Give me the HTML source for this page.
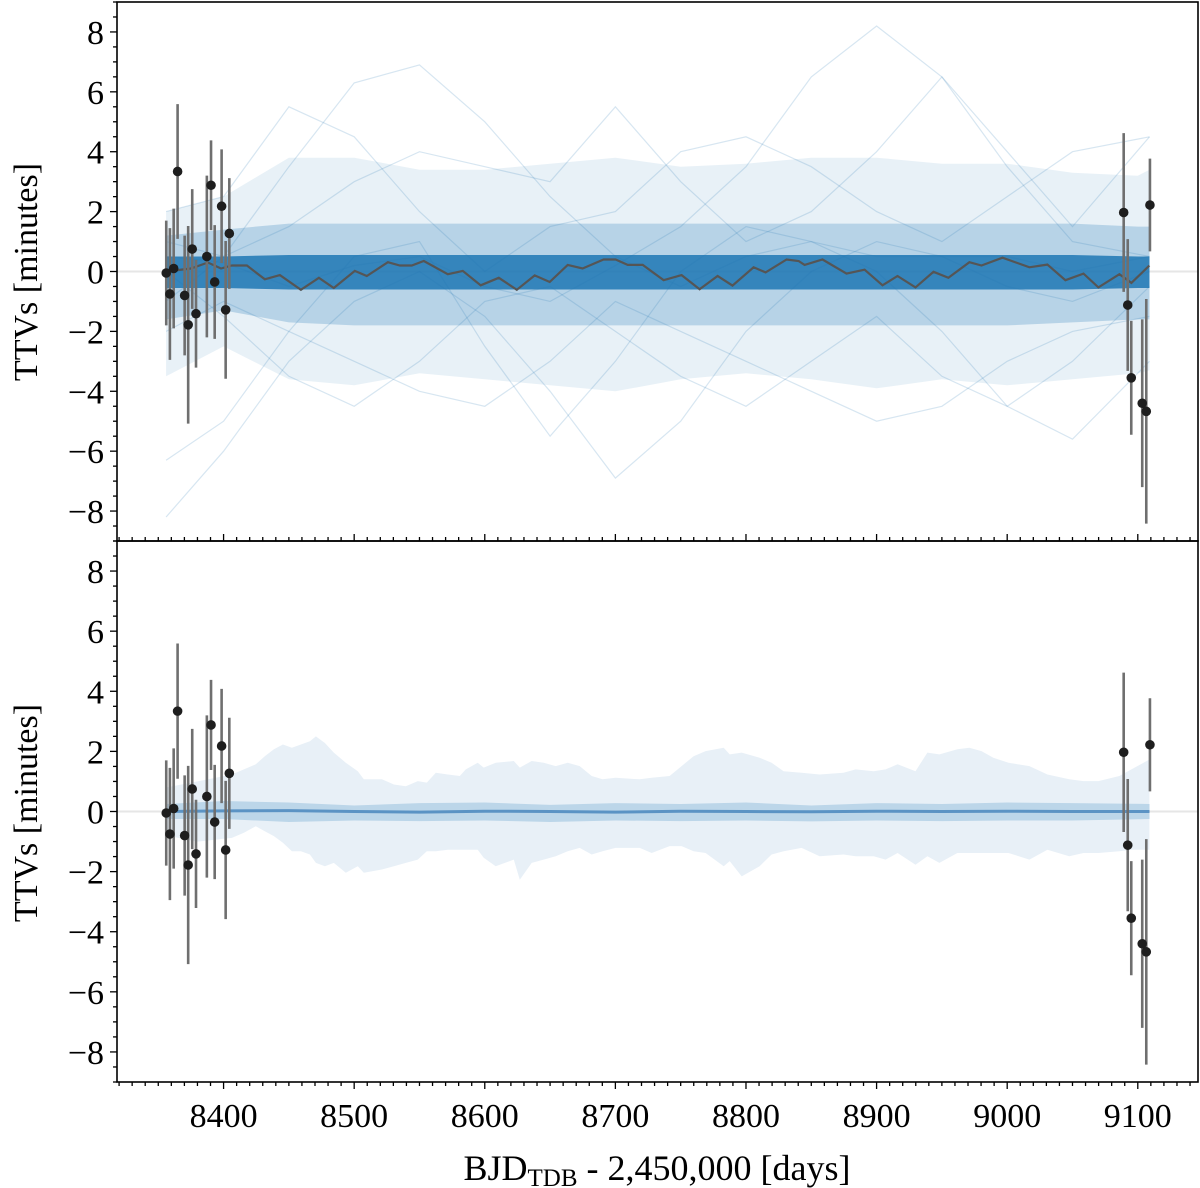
<!DOCTYPE html>
<html><head><meta charset="utf-8"><style>
html,body{margin:0;padding:0;background:#fff;}
svg{display:block;font-family:"Liberation Serif","DejaVu Serif",serif;}
</style></head><body>
<svg id="chart" width="1200" height="1188" viewBox="0 0 1200 1188" xmlns="http://www.w3.org/2000/svg">
<g id="top"></g>
<g id="bot"></g>
<g id="axes"></g>
<text x="37" y="272" font-size="34" text-anchor="middle" transform="rotate(-90 37 272)">TTVs [minutes]</text>
<text x="37" y="813" font-size="34" text-anchor="middle" transform="rotate(-90 37 813)">TTVs [minutes]</text>
<text x="657" y="1180" font-size="36" text-anchor="middle">BJD<tspan font-size="25" dy="6">TDB</tspan><tspan dy="-6"> - 2,450,000 [days]</tspan></text>
</svg>
<script>
// ---- data ----
const obsDays = [8356.1,8358.9,8361.8,8364.8,8370.2,8372.9,8376.0,8378.9,8387.2,8390.4,8393.2,8398.5,8401.6,8404.4,9089.2,9092.3,9095.0,9103.4,9106.5,9109.3];
const obsTTV = [-0.05,-0.75,0.1,3.34,-0.8,-1.78,0.75,-1.41,0.5,2.88,-0.35,2.18,-1.28,1.27,1.97,-1.12,-3.55,-4.4,-4.67,2.22];
const obsErr = [1.75,2.2,2.0,2.25,2.0,3.3,2.0,1.8,2.7,1.5,1.9,1.9,2.3,1.85,2.65,2.2,1.9,2.8,3.75,1.55];
const medDays = [8356,8375,8388,8398,8406.4,8417.9,8431.6,8443.1,8459.2,8473,8484.4,8500.5,8509.7,8525.8,8535,8544.1,8553.3,8571.7,8583.2,8596.9,8610.7,8624.5,8638.2,8649.7,8663.5,8674.9,8691,8700.2,8709.4,8720.9,8736.9,8750.7,8764.5,8778.3,8789.7,8805.8,8815,8831.1,8840.3,8844.9,8858.6,8877,8890.8,8904.5,8916,8929.8,8943.6,8955,8971.1,8980.3,8996.4,9017,9030.8,9044.6,9058.4,9069.8,9085.9,9095.1,9108.9];
const medTTV = [0.0,0.1,0.3,0.1,0.2,0.2,-0.26,-0.12,-0.61,-0.21,-0.55,0.02,-0.15,0.31,0.2,0.2,0.35,-0.09,0.02,-0.46,-0.21,-0.61,-0.13,-0.35,0.22,0.1,0.4,0.4,0.22,0.22,-0.29,-0.12,-0.59,-0.15,-0.47,0.14,-0.03,0.4,0.35,0.22,0.4,-0.07,0.06,-0.46,-0.15,-0.53,-0.01,-0.21,0.31,0.2,0.46,0.14,0.23,-0.29,-0.07,-0.53,-0.09,-0.38,0.2];
// posterior envelope (top panel), knots every 50 days
const envDays = [8356,8400,8450,8500,8550,8600,8650,8700,8750,8800,8850,8900,8950,9000,9050,9100,9109];
const envCoreHi = [0.5,0.5,0.55,0.55,0.55,0.55,0.55,0.55,0.55,0.55,0.55,0.55,0.55,0.55,0.55,0.5,0.5];
const envCoreLo = [-0.55,-0.55,-0.6,-0.6,-0.6,-0.6,-0.6,-0.6,-0.6,-0.6,-0.6,-0.6,-0.6,-0.6,-0.6,-0.55,-0.55];
const envMidHi = [1.2,1.4,1.6,1.6,1.6,1.6,1.6,1.6,1.6,1.6,1.6,1.6,1.6,1.6,1.6,1.5,1.5];
const envMidLo = [-1.6,-1.3,-1.7,-1.8,-1.8,-1.8,-1.8,-1.8,-1.8,-1.8,-1.8,-1.8,-1.8,-1.8,-1.7,-1.6,-1.6];
const envWideHi = [2.0,2.5,3.8,3.8,3.4,3.4,3.6,3.8,3.5,3.6,3.8,3.8,3.6,3.6,3.3,3.2,3.4];
const envWideLo = [-3.5,-2.5,-3.6,-3.8,-3.4,-3.6,-3.8,-4.0,-3.6,-3.4,-3.6,-3.9,-3.6,-3.8,-3.6,-3.4,-3.3];
// individual highlighted posterior samples
const sampleDays = [8356,8400,8450,8500,8550,8600,8650,8700,8750,8800,8850,8900,8950,9000,9050,9109];
const sample1 = [0.5,0.3,-0.5,0.2,0.5,-0.5,-1.0,0.2,1.5,3.5,6.5,8.2,6.5,3.5,1.0,0.5];
const sample2 = [-1.0,0.5,3.5,6.3,6.9,5.0,2.5,0.5,-0.5,0.5,1.0,0.5,0.5,0.5,0.0,0.5];
const sample3 = [-8.2,-6.0,-3.0,-1.0,0.0,-1.5,-4.0,-6.9,-5.0,-2.0,0.0,1.0,0.5,-0.5,-1.0,0.0];
const sample4 = [-6.3,-5.0,-2.0,0.5,1.0,-2.5,-5.5,-3.0,0.0,1.5,1.0,0.0,-2.0,-4.5,-5.6,-3.0];
const sample5 = [1.0,0.5,1.5,3.0,4.0,3.5,3.0,5.5,3.0,1.0,2.0,4.0,6.5,4.0,1.5,4.5];
const sample6 = [0.0,-1.5,-3.5,-4.5,-3.0,-1.0,-0.5,-2.0,-3.5,-4.5,-3.0,-1.5,-3.5,-4.5,-3.0,-0.5];
const sample7 = [2.0,2.5,5.5,4.5,2.0,0.0,1.5,2.0,4.0,4.5,3.5,2.0,1.0,2.5,4.0,4.5];
const sample8 = [-2.0,-1.0,-2.0,-3.0,-4.0,-4.5,-3.0,-1.0,-2.0,-3.0,-4.0,-5.0,-4.5,-3.0,-2.0,-1.5];
// bottom panel bands
const bandDays = [8356,8380,8406.4,8415.6,8424.7,8431.6,8438.5,8445.4,8452.3,8459.2,8466.1,8470.7,8477.6,8484.4,8493.6,8502.8,8507.4,8521.2,8530.4,8539.5,8548.7,8555.6,8562.5,8571.7,8580.9,8585.5,8594.6,8599.2,8608.4,8622.2,8626.8,8635.9,8645.1,8654.3,8663.5,8672.7,8681.9,8690.1,8700.2,8718.6,8727.8,8741.5,8750.7,8759.9,8769.1,8782.9,8787.5,8796.7,8810.4,8819.6,8828.8,8842.6,8856.4,8874.7,8883.9,8897.7,8906.9,8916.1,8929.8,8938.9,8948.1,8961.9,8971,8980.3,8989.4,9001,9017,9030.8,9047.5,9058.4,9069.8,9085.9,9095.1,9108.9];
const bandHi = [0.8,1.0,1.23,1.4,1.57,1.84,2.07,2.23,2.12,2.23,2.34,2.5,2.28,1.96,1.62,1.34,1.07,1.07,0.9,0.84,1.01,0.96,1.29,1.23,1.18,1.4,1.62,1.46,1.62,1.68,1.46,1.68,1.62,1.51,1.62,1.51,1.18,1.07,1.12,1.07,1.12,1.18,1.51,1.84,2.01,2.12,1.9,1.96,1.79,1.62,1.34,1.29,1.23,1.29,1.4,1.34,1.4,1.57,1.34,1.96,1.9,2.07,2.12,2.01,1.79,1.62,1.51,1.23,1.07,1.01,1.01,1.18,1.4,1.73];
const bandLo = [-0.8,-1.0,-0.88,-0.71,-0.49,-0.66,-0.82,-1.04,-1.32,-1.32,-1.43,-1.71,-1.82,-1.71,-2.04,-1.82,-2.04,-1.93,-1.82,-1.71,-1.6,-1.32,-1.32,-1.27,-1.27,-1.27,-1.27,-1.54,-1.82,-1.6,-2.27,-1.71,-1.6,-1.49,-1.32,-1.21,-1.43,-1.32,-1.21,-1.21,-1.38,-1.15,-1.15,-1.32,-1.38,-1.82,-1.65,-2.16,-1.82,-1.43,-1.32,-1.21,-1.49,-1.43,-1.49,-1.49,-1.6,-1.38,-1.77,-1.49,-1.71,-1.38,-1.38,-1.38,-1.38,-1.38,-1.6,-1.27,-1.49,-1.38,-1.38,-1.32,-1.27,-1.27];
const innerDays = [8356,8400,8450,8500,8550,8600,8650,8700,8750,8800,8850,8900,8950,9000,9050,9109];
const innerHi = [0.25,0.35,0.3,0.2,0.28,0.3,0.22,0.28,0.25,0.3,0.2,0.28,0.25,0.3,0.28,0.25];
const innerLo = [-0.25,-0.25,-0.35,-0.3,-0.32,-0.3,-0.35,-0.3,-0.32,-0.3,-0.33,-0.3,-0.32,-0.3,-0.3,-0.25];
const medBotTTV = [0.0,0.02,0.03,0.0,-0.02,0.01,0.0,-0.02,0.01,0.0,-0.01,0.01,0.0,0.01,0.0,0.0];
const xTicks = [8400,8500,8600,8700,8800,8900,9000,9100];
const yTicks = [-8,-6,-4,-2,0,2,4,6,8];

// ---- scales ----
const NS="http://www.w3.org/2000/svg";
const X0=117,X1=1198,D0=8318.4,D1=9146.1;
const xs=d=>X0+(d-D0)/(D1-D0)*(X1-X0);
const panels=[{top:2,bot:541,g:document.getElementById('top')},{top:541,bot:1082,g:document.getElementById('bot')}];
const yScale=p=>v=>p.top+(9-v)/18*(p.bot-p.top);
function mk(tag,attrs,parent){const e=document.createElementNS(NS,tag);for(const k in attrs)e.setAttribute(k,attrs[k]);parent.appendChild(e);return e;}
function pathLine(ds,vs,ys){return ds.map((d,i)=>(i?'L':'M')+xs(d).toFixed(1)+' '+ys(vs[i]).toFixed(1)).join(' ');}
function pathBand(ds,hi,lo,ys){let s=pathLine(ds,hi,ys);for(let i=ds.length-1;i>=0;i--)s+=' L'+xs(ds[i]).toFixed(1)+' '+ys(lo[i]).toFixed(1);return s+' Z';}

// ---- top panel ----
(function(){
const p=panels[0],ys=yScale(p),g=p.g;
let e=mk('line',{x1:X0,x2:X1,y1:ys(0),y2:ys(0),stroke:'#e6e6e6','stroke-width':2},g);


e=mk('path',{d:pathBand(envDays,envWideHi,envWideLo,ys),fill:'#1f77b4','fill-opacity':0.1},g);


e=mk('path',{d:pathBand(envDays,envMidHi,envMidLo,ys),fill:'#1f77b4','fill-opacity':0.24},g);


e=mk('path',{d:pathBand(envDays,envCoreHi,envCoreLo,ys),fill:'#1f77b4','fill-opacity':0.85},g);


[sample1,sample2,sample3,sample4,sample5,sample6,sample7,sample8].forEach((s,i)=>{
 const l=mk('path',{d:pathLine(sampleDays,s,ys),fill:'none',stroke:'#1f77b4','stroke-opacity':0.18,'stroke-width':1.2},g);
 
 
});
e=mk('path',{d:pathLine(medDays,medTTV,ys),fill:'none',stroke:'#555','stroke-width':2.2},g);


})();

// ---- bottom panel ----
(function(){
const p=panels[1],ys=yScale(p),g=p.g;
let e=mk('line',{x1:X0,x2:X1,y1:ys(0),y2:ys(0),stroke:'#e6e6e6','stroke-width':2},g);


e=mk('path',{d:pathBand(bandDays,bandHi,bandLo,ys),fill:'#e8f0f7'},g);


e=mk('path',{d:pathBand(innerDays,innerHi,innerLo,ys),fill:'#bcd6e9'},g);


e=mk('path',{d:pathLine(innerDays,medBotTTV,ys),fill:'none',stroke:'#5b93c4','stroke-width':3},g);


})();

// ---- observations on both panels ----
panels.forEach((p,pi)=>{
 const ys=yScale(p);
 obsDays.forEach((d,i)=>{
  const b=mk('line',{x1:xs(d),x2:xs(d),y1:ys(obsTTV[i]+obsErr[i]),y2:ys(obsTTV[i]-obsErr[i]),stroke:'#6f6f6f','stroke-width':2.6},p.g);
  
  
 });
 obsDays.forEach((d,i)=>{
  const c=mk('circle',{cx:xs(d),cy:ys(obsTTV[i]),r:4.8,fill:'#1e1e1e'},p.g);
  
  
 });
});

// ---- axes ----
(function(){
const g=document.getElementById('axes');
panels.forEach((p,pi)=>{
 const ys=yScale(p);
 const r=mk('rect',{x:X0,y:p.top,width:X1-X0,height:p.bot-p.top,fill:'none',stroke:'#000','stroke-width':1.6},g);
 
 
 for(let v=-9;v<=9;v+=0.5){
  const maj=Number.isInteger(v/2);
  const t=mk('line',{x1:X0,x2:X0-(maj?7:4),y1:ys(v),y2:ys(v),stroke:'#000','stroke-width':1.3},g);
  
  
 }
 yTicks.forEach(v=>{
  const t=mk('text',{x:104,y:ys(v)+12,'font-size':34,'text-anchor':'end'},g);
  t.textContent=v<0?'\u2212'+(-v):String(v);
  
  
 });
 for(let d=8320;d<=9140;d+=10){
  const maj=d%100===0;
  const y0=p.bot, dir=pi?1:-1;
  const t=mk('line',{x1:xs(d),x2:xs(d),y1:y0,y2:y0+dir*(maj?7:4),stroke:'#000','stroke-width':1.3},g);
  
  
 }
});
xTicks.forEach(d=>{
 const t=mk('text',{x:xs(d),y:1127,'font-size':34,'text-anchor':'middle'},g);
 t.textContent=String(d);
 
 
});
})();
</script>
</body></html>
